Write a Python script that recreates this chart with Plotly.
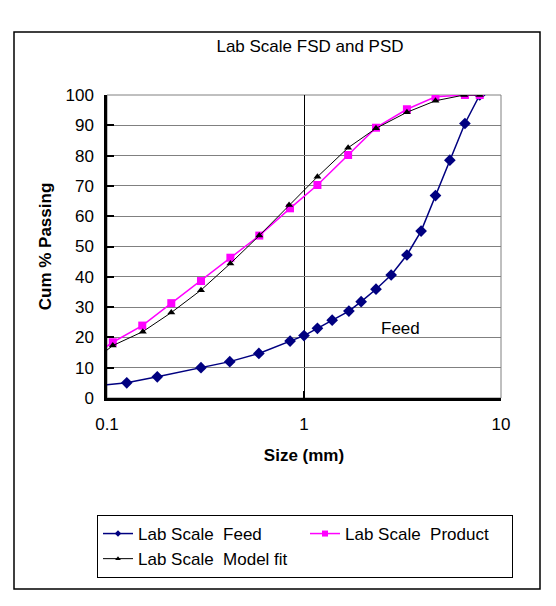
import plotly.graph_objects as go
import math

# ---- data ----
feed_size = [0.09, 0.126, 0.18, 0.30, 0.42, 0.59, 0.85, 1.0, 1.17, 1.39, 1.69, 1.95,
             2.32, 2.77, 3.33, 3.93, 4.65, 5.50, 6.56, 7.80]
feed_pass = [4.1, 5.0, 7.0, 10.0, 12.0, 14.7, 18.8, 20.6, 23.0, 25.7, 28.7, 31.8,
             35.9, 40.6, 47.2, 55.1, 66.8, 78.5, 90.6, 100.0]

prod_size = [0.09, 0.107, 0.151, 0.212, 0.30, 0.423, 0.593, 0.849, 1.17, 1.675, 2.32,
             3.33, 4.65, 6.56, 7.80]
prod_pass = [15.0, 18.4, 23.9, 31.3, 38.6, 46.3, 53.6, 62.6, 70.3, 80.2, 89.2,
             95.3, 99.4, 100.0, 100.0]

fit_size = [0.09, 0.107, 0.152, 0.212, 0.30, 0.423, 0.593, 0.84, 1.17, 1.675, 2.32,
            3.33, 4.65, 6.50, 7.80]
fit_pass = [13.5, 17.3, 21.9, 28.2, 35.6, 44.4, 53.6, 63.7, 73.0, 82.6, 89.0,
            94.3, 98.1, 100.0, 100.0]

series_names = ["Lab Scale  Feed", "Lab Scale  Product", "Lab Scale  Model fit"]

x_ticks = [0.1, 1, 10]
x_tick_text = ["0.1", "1", "10"]
y_ticks = list(range(0, 101, 10))

FONT = "Liberation Sans, Arial, sans-serif"
FS = 17

styles = [
    dict(color="#000080", lw=1.5, sym="diamond", ms=9, lms=5),
    dict(color="#FF00FF", lw=1.5, sym="square", ms=8, lms=6),
    dict(color="#000000", lw=1.0, sym="triangle-up", ms=7, lms=5),
]
datasets = [(feed_size, feed_pass), (prod_size, prod_pass), (fit_size, fit_pass)]

fig = go.Figure()
for (xs, ys), name, st in zip(datasets, series_names, styles):
    fig.add_trace(go.Scatter(
        x=xs, y=ys, mode="lines+markers", name=name, showlegend=False,
        line=dict(color=st["color"], width=st["lw"]),
        marker=dict(symbol=st["sym"], size=st["ms"], color=st["color"])))
# legend entries with the smaller legend markers
for name, st in zip(series_names, styles):
    fig.add_trace(go.Scatter(
        x=[None], y=[None], mode="lines+markers", name=name, showlegend=True,
        line=dict(color=st["color"], width=st["lw"]),
        marker=dict(symbol=st["sym"], size=st["lms"], color=st["color"])))

# plot area in pixels: x 107..501, y 95..398
L, R, T, B = 107, 501, 95, 398
W, H = 556, 606
pw, ph = R - L, B - T

def px(xp):
    return (xp - L) / pw

def py(yp):
    return (B - yp) / ph

shapes = [
    # outer chart border
    dict(type="rect", xref="paper", yref="paper", x0=px(14), x1=px(540), y0=py(589), y1=py(32),
         line=dict(color="#000000", width=1.5), fillcolor="rgba(0,0,0,0)", layer="below"),
    # plot-area border (gray)
    dict(type="rect", xref="paper", yref="paper", x0=0, x1=1, y0=0, y1=1,
         line=dict(color="#808080", width=1), layer="below"),
    # dark 50 % line
    dict(type="line", xref="paper", yref="y", x0=0, x1=1, y0=50, y1=50,
         line=dict(color="#000000", width=1.2), layer="below"),
]

fig.update_layout(
    width=W, height=H,
    margin=dict(l=L, r=W - R, t=T, b=H - B),
    paper_bgcolor="white", plot_bgcolor="white",
    font=dict(family=FONT, size=FS, color="#000000"),
    title=dict(text="Lab Scale FSD and PSD", xref="container", x=310 / W, xanchor="center",
               yref="container", y=1 - 46 / H, yanchor="middle", font=dict(size=FS)),
    xaxis=dict(type="log", range=[-1, 1], tickvals=x_ticks, ticktext=x_tick_text,
               showgrid=True, gridcolor="#000000", gridwidth=1.2,
               showline=True, linecolor="#000000", linewidth=2.5,
               ticks="inside", ticklen=7, tickcolor="#000000", tickwidth=1.5,
               ticklabelstandoff=9,
               title=dict(text="<b>Size (mm)</b>", font=dict(size=FS), standoff=16)),
    yaxis=dict(range=[0, 100], tickvals=y_ticks,
               showgrid=True, gridcolor="#808080", gridwidth=1,
               showline=True, linecolor="#000000", linewidth=2.5,
               ticks="inside", ticklen=7, tickcolor="#000000", tickwidth=1.5,
               ticklabelstandoff=7,
               title=dict(text="<b>Cum % Passing</b>", font=dict(size=FS), standoff=10)),
    legend=dict(orientation="h", x=px(97), y=py(515), xanchor="left", yanchor="top",
                bordercolor="#000000", borderwidth=1, bgcolor="white",
                entrywidth=162, entrywidthmode="pixels",
                font=dict(size=FS), tracegroupgap=0),
    shapes=shapes,
    annotations=[dict(x=math.log10(3.09), y=23, xref="x", yref="y", text="Feed",
                      showarrow=False, font=dict(size=FS))],
    showlegend=True,
)

fig.write_html("out.html")
